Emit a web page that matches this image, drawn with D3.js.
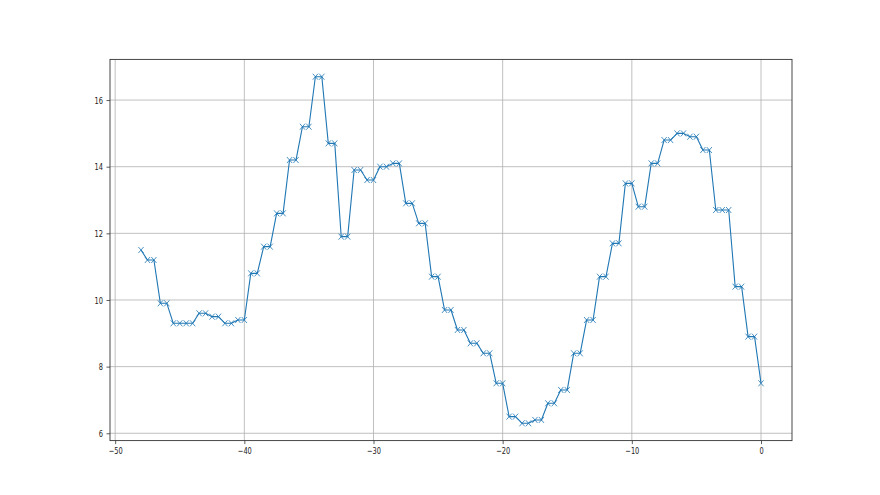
<!DOCTYPE html>
<html>
<head>
<meta charset="utf-8">
<script src="https://cdn.jsdelivr.net/npm/d3@7"></script>
<style>
  body { margin: 0; background: #fff; }
  svg { display: block; }
  .tick text { font-family: "DejaVu Sans", sans-serif; font-size: 9.5px; fill: #222; }
</style>
</head>
<body>
<svg width="880" height="495"></svg>
<script>
// hours relative to now, half-hour steps
const hours = [
    -48, -47.5, -47, -46.5, -46, -45.5, -45, -44.5, -44, -43.5,
    -43, -42.5, -42, -41.5, -41, -40.5, -40, -39.5, -39, -38.5,
    -38, -37.5, -37, -36.5, -36, -35.5, -35, -34.5, -34, -33.5,
    -33, -32.5, -32, -31.5, -31, -30.5, -30, -29.5, -29, -28.5,
    -28, -27.5, -27, -26.5, -26, -25.5, -25, -24.5, -24, -23.5,
    -23, -22.5, -22, -21.5, -21, -20.5, -20, -19.5, -19, -18.5,
    -18, -17.5, -17, -16.5, -16, -15.5, -15, -14.5, -14, -13.5,
    -13, -12.5, -12, -11.5, -11, -10.5, -10, -9.5, -9, -8.5,
    -8, -7.5, -7, -6.5, -6, -5.5, -5, -4.5, -4, -3.5,
    -3, -2.5, -2, -1.5, -1, -0.5, 0
];

const values = [
    11.5, 11.2, 11.2, 9.9, 9.9, 9.3, 9.3, 9.3, 9.3, 9.6,
    9.6, 9.5, 9.5, 9.3, 9.3, 9.4, 9.4, 10.8, 10.8, 11.6,
    11.6, 12.6, 12.6, 14.2, 14.2, 15.2, 15.2, 16.7, 16.7, 14.7,
    14.7, 11.9, 11.9, 13.9, 13.9, 13.6, 13.6, 14.0, 14.0, 14.1,
    14.1, 12.9, 12.9, 12.3, 12.3, 10.7, 10.7, 9.7, 9.7, 9.1,
    9.1, 8.7, 8.7, 8.4, 8.4, 7.5, 7.5, 6.5, 6.5, 6.3,
    6.3, 6.4, 6.4, 6.9, 6.9, 7.3, 7.3, 8.4, 8.4, 9.4,
    9.4, 10.7, 10.7, 11.7, 11.7, 13.5, 13.5, 12.8, 12.8, 14.1,
    14.1, 14.8, 14.8, 15.0, 15.0, 14.9, 14.9, 14.5, 14.5, 12.7,
    12.7, 12.7, 10.4, 10.4, 8.9, 8.9, 7.5
];

const xTicks = [-50, -40, -30, -20, -10, 0];
const yTicks = [6, 8, 10, 12, 14, 16];

const svg = d3.select("svg"),
    width = +svg.attr("width"),
    height = +svg.attr("height");

const plotLeft = 110, plotRight = 792, plotTop = 59.4, plotBottom = 440.6;

const data = hours.map(function (h, i) { return { x: h, y: values[i] }; });

// matplotlib style 5% margins
const xExt = d3.extent(hours), yExt = d3.extent(values);
const xPad = (xExt[1] - xExt[0]) * 0.05, yPad = (yExt[1] - yExt[0]) * 0.05;

const x = d3.scaleLinear()
    .domain([xExt[0] - xPad, xExt[1] + xPad])
    .range([plotLeft, plotRight]);

const y = d3.scaleLinear()
    .domain([yExt[0] - yPad, yExt[1] + yPad])
    .range([plotBottom, plotTop]);

// grid
const grid = svg.append("g");
grid.selectAll(".vg")
    .data(xTicks)
    .enter().append("line")
    .attr("x1", function (d) { return x(d); })
    .attr("x2", function (d) { return x(d); })
    .attr("y1", plotTop).attr("y2", plotBottom)
    .attr("stroke", "#b0b0b0").attr("stroke-width", 0.8);
grid.selectAll(".hg")
    .data(yTicks)
    .enter().append("line")
    .attr("y1", function (d) { return y(d); })
    .attr("y2", function (d) { return y(d); })
    .attr("x1", plotLeft).attr("x2", plotRight)
    .attr("stroke", "#b0b0b0").attr("stroke-width", 0.8);

// line
const line = d3.line()
    .x(function (d) { return x(d.x); })
    .y(function (d) { return y(d.y); });

svg.append("path")
    .datum(data)
    .attr("d", line)
    .attr("fill", "none")
    .attr("stroke", "#1f77b4")
    .attr("stroke-width", 1.1)
    .attr("stroke-linejoin", "round");

// x markers
const mx = 2.6, my = 3;
svg.append("g")
    .selectAll("path")
    .data(data)
    .enter().append("path")
    .attr("d", function (d) {
        const cx = x(d.x), cy = y(d.y);
        return "M" + (cx - mx) + "," + (cy - my) + "L" + (cx + mx) + "," + (cy + my) +
            "M" + (cx - mx) + "," + (cy + my) + "L" + (cx + mx) + "," + (cy - my);
    })
    .attr("stroke", "#1f77b4")
    .attr("stroke-width", 1)
    .attr("stroke-opacity", 0.8)
    .attr("fill", "none");

// axes
const xAxis = d3.axisBottom(x).tickValues(xTicks).tickSize(3.5).tickPadding(3.5).tickSizeOuter(0);
const yAxis = d3.axisLeft(y).tickValues(yTicks).tickSize(3.5).tickPadding(3.5).tickSizeOuter(0);

const gx = svg.append("g").attr("transform", "translate(0," + plotBottom + ")").call(xAxis);
const gy = svg.append("g").attr("transform", "translate(" + plotLeft + ",0)").call(yAxis);
[gx, gy].forEach(function (g) {
    g.select(".domain").remove();
    g.selectAll(".tick line").attr("stroke", "#333").attr("stroke-width", 0.8);
});

// the reference text looks squeezed sideways
const squeeze = 0.7;
gx.selectAll(".tick text").attr("transform", "scale(" + squeeze + ",1)");
gy.selectAll(".tick text")
    .attr("x", -7 / squeeze)
    .attr("transform", "scale(" + squeeze + ",1)");

// spines
svg.append("rect")
    .attr("x", plotLeft).attr("y", plotTop)
    .attr("width", plotRight - plotLeft).attr("height", plotBottom - plotTop)
    .attr("fill", "none")
    .attr("stroke", "#333")
    .attr("stroke-width", 0.9);
</script>
</body>
</html>
